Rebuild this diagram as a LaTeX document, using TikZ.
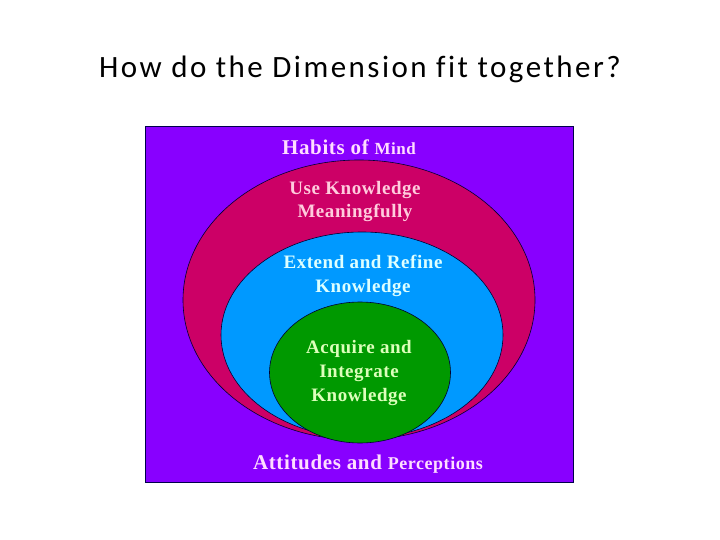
\documentclass[tikz,border=0pt]{standalone}
\usepackage{fontspec}
\setmainfont{Liberation Serif}[LetterSpace=3]
\newfontfamily\titlefont{Carlito}[LetterSpace=8,Ligatures=CommonOff]
\definecolor{bgpurple}{HTML}{8800FF}
\definecolor{rimred}{HTML}{CC0066}
\definecolor{skyblue}{HTML}{0099FF}
\definecolor{leafgreen}{HTML}{009900}
\definecolor{txtpurple}{HTML}{FFDDFF}
\definecolor{txtred}{HTML}{FFCCDD}
\definecolor{txtblue}{HTML}{DDFFFF}
\definecolor{txtgreen}{HTML}{DDFFBB}
\begin{document}
\begin{tikzpicture}[x=1pt,y=-1pt,
  lbl/.style={anchor=base,inner sep=0pt,font=\bfseries\fontsize{19}{19}\selectfont},
  ring/.style={draw=black!80!blue,line width=0.6pt}]
\useasboundingbox (0,0) rectangle (720,540);
\node[anchor=base,inner sep=0pt,font=\titlefont\fontsize{31}{31}\selectfont] (title) at (360,78) {How do the Dimension fit together?};
\node[draw=black!70!blue,line width=0.8pt,fill=bgpurple,minimum width=428pt,minimum height=356pt,inner sep=0pt] (frame) at (359,304) {};
\fill[rimred] (359,300) ellipse [x radius=176, y radius=140];
\draw[ring] (359,300) ellipse [x radius=176, y radius=140];
\filldraw[fill=skyblue,ring] (362,335) ellipse [x radius=141, y radius=103];
\filldraw[fill=leafgreen,ring] (360,372.5) ellipse [x radius=90.5, y radius=70.5];
\node[lbl,text=txtpurple,font=\bfseries\fontsize{21}{21}\selectfont] (habits) at (349,155) {Habits of {\fontsize{17}{17}\selectfont Mind}};
\node[lbl,text=txtred] (use1) at (355,195) {Use Knowledge};
\node[lbl,text=txtred] (use2) at (355,218) {Meaningfully};
\node[lbl,text=txtblue] (ext1) at (363,268) {Extend and Refine};
\node[lbl,text=txtblue] (ext2) at (363,292) {Knowledge};
\node[lbl,text=txtgreen] (acq1) at (359,353) {Acquire and};
\node[lbl,text=txtgreen] (acq2) at (359,377) {Integrate};
\node[lbl,text=txtgreen] (acq3) at (359,401) {Knowledge};
\node[lbl,text=txtpurple,font=\bfseries\fontsize{21}{21}\selectfont] (att) at (368,469) {Attitudes and {\fontsize{18}{18}\selectfont Perceptions}};
\end{tikzpicture}
\end{document}
